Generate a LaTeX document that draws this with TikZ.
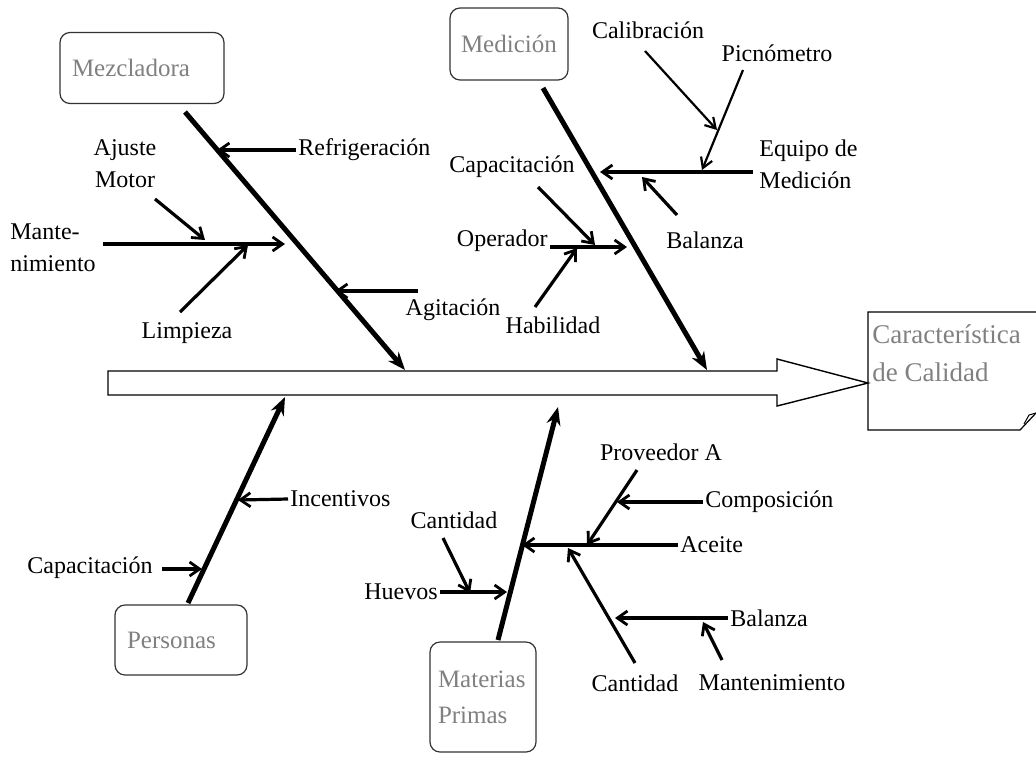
\documentclass[tikz,border=0pt]{standalone}
\usepackage{fontspec}
\setmainfont{Liberation Serif}
\usepackage{tikz}
\usetikzlibrary{calc,arrows,arrows.meta}

\tikzset{
	causa/.style={draw=black!80,line width=0.6pt,rounded corners=5pt,text=gray,font=\fontsize{12.5}{18}\selectfont,align=left,inner xsep=6pt},
	etq/.style={font=\fontsize{12}{16}\selectfont,inner sep=1pt},
	espina/.style={line width=2.5pt,-{Stealth[length=9pt,width=7pt]}},
	rama/.style={line width=1.6pt,-{Straight Barb[length=5pt,width=7pt,line width=1.4pt]}},
	ramita/.style={line width=1.1pt,-{Straight Barb[length=5pt,width=6pt,line width=1.1pt]}}
}

\begin{document}
\begin{tikzpicture}[x=0.5pt,y=-0.5pt]
			\useasboundingbox (0,0) rectangle (1036,756);
			
			\draw[line width=0.7pt] (108,371)--(777,371)--(777,359)--(868,383)--(777,406)--(777,395)--(108,395)--cycle;
			\draw[line width=0.6pt] (1036,312)--(868,312)--(868,430)--(1020,430)--(1036,413);
			\draw[line width=0.5pt] (1024,424)--(1029,415)--(1036,413);
			\node[anchor=north west,text=gray,font=\fontsize{13.5}{19}\selectfont,align=left,inner sep=0pt] (calidad) at (872,324) {Característica\\de Calidad};
			
			\node[causa,text width=70pt,minimum height=35.5pt] (mez) at (142,68) {Mezcladora};
			\node[causa,text width=48pt,minimum height=36pt,inner xsep=5.5pt] (med) at (509,44) {Medición};
			\node[causa,text width=54pt,minimum height=35pt] (per) at (181,640) {Personas};
			\node[causa,text width=45pt,minimum height=55pt,inner xsep=4pt] (mat) at (483,697) {Materias\\Primas};
			
			\coordinate (mezA) at (185,112);
			\coordinate (mezB) at (405,370);
			\coordinate (medA) at (543,88);
			\coordinate (medB) at (707,370);
			\coordinate (perA) at (188,603);
			\coordinate (perB) at (285,397);
			\coordinate (matA) at (498,640);
			\coordinate (matB) at (558,407);
			\draw[espina] (mezA)--(mezB);
			\draw[espina] (medA)--(medB);
			\draw[espina] (perA)--(perB);
			\draw[espina] (matA)--(matB);
			
			\node[etq,anchor=west] (refri) at (296,150) {Refrigeración};
			\node[etq,anchor=west,align=left] (mante) at (8,248) {Mante-\\nimiento};
			\node[etq,align=center] (ajuste) at (125,164) {Ajuste\\Motor};
			\node[etq] (limp) at (187,333) {Limpieza};
			\node[etq] (agit) at (453,310) {Agitación};
			\coordinate (refriB) at (217,150);
			\coordinate (manteA) at (103,244);
			\coordinate (manteB) at (285,244);
			\coordinate (ajusteA) at (155,199);
			\coordinate (ajusteB) at (205,240);
			\coordinate (limpA) at (180,312);
			\coordinate (limpB) at (248,245);
			\coordinate (agitA) at (418,291);
			\coordinate (agitB) at (335,291);
			\draw[rama] (refri.west)--(refriB);
			\draw[rama] (manteA)--(manteB);
			\draw[rama] (ajusteA)--(ajusteB);
			\draw[rama] (limpA)--(limpB);
			\draw[rama] (agitA)--(agitB);
			
			\node[etq,anchor=west,align=left] (equipo) at (757,164) {Equipo de\\Medición};
			\node[etq] (calib) at (648,30) {Calibración};
			\node[etq] (picno) at (777,53) {Picnómetro};
			\node[etq] (bal) at (705,240) {Balanza};
			\node[etq] (capac) at (512,167) {Capacitación};
			\node[etq,anchor=east] (oper) at (550,241) {Operador};
			\node[etq] (habil) at (553,325) {Habilidad};
			\coordinate (equipoA) at (753,172);
			\coordinate (equipoB) at (600,172);
			\coordinate (calibA) at (645,51);
			\coordinate (calibB) at (717,130);
			\coordinate (picnoA) at (743,70);
			\coordinate (picnoB) at (702,170);
			\coordinate (balA) at (677,215);
			\coordinate (balB) at (642,177);
			\coordinate (capacA) at (538,187);
			\coordinate (capacB) at (595,245);
			\coordinate (operA) at (550,247);
			\coordinate (operB) at (627,247);
			\coordinate (habilA) at (535,307);
			\coordinate (habilB) at (577,248);
			\draw[rama] (equipoA)--(equipoB);
			\draw[ramita] (calibA)--(calibB);
			\draw[ramita] (picnoA)--(picnoB);
			\draw[rama] (balA)--(balB);
			\draw[rama] (capacA)--(capacB);
			\draw[rama] (operA)--(operB);
			\draw[rama] (habilA)--(habilB);
			
			\node[etq,anchor=west] (incen) at (288,499) {Incentivos};
			\node[etq] (capper) at (90,568) {Capacitación};
			\coordinate (capperA) at (162,569);
			\coordinate (capperB) at (202,569);
			\coordinate (incenB) at (238,500);
			\draw[rama] (incen.west)--(incenB);
			\draw[rama] (capperA)--(capperB);
			
			\node[etq,anchor=east] (huevos) at (440,592) {Huevos};
			\node[etq] (cant) at (454,520) {Cantidad};
			\node[etq,anchor=west] (aceite) at (678,545) {Aceite};
			\node[etq] (prov) at (661,452) {Proveedor A};
			\node[etq,anchor=west] (compo) at (703,502) {Composición};
			\node[etq] (cantac) at (635,683) {Cantidad};
			\node[etq,anchor=west] (balac) at (728,618) {Balanza};
			\node[etq] (mantac) at (772,683) {Mantenimiento};
			\coordinate (huevosB) at (507,592);
			\coordinate (cantA) at (443,538);
			\coordinate (cantB) at (470,593);
			\coordinate (aceiteB) at (522,545);
			\coordinate (provA) at (637,470);
			\coordinate (provB) at (587,545);
			\coordinate (compoB) at (617,502);
			\coordinate (cantacA) at (635,663);
			\coordinate (cantacB) at (568,548);
			\coordinate (balacB) at (615,618);
			\coordinate (mantacA) at (722,660);
			\coordinate (mantacB) at (703,622);
			\draw[rama] (huevos.east)--(huevosB);
			\draw[rama] (cantA)--(cantB);
			\draw[rama] (aceite.west)--(aceiteB);
			\draw[rama] (provA)--(provB);
			\draw[rama] (compo.west)--(compoB);
			\draw[rama] (cantacA)--(cantacB);
			\draw[rama] (balac.west)--(balacB);
			\draw[rama] (mantacA)--(mantacB);
		\end{tikzpicture}
\end{document}
